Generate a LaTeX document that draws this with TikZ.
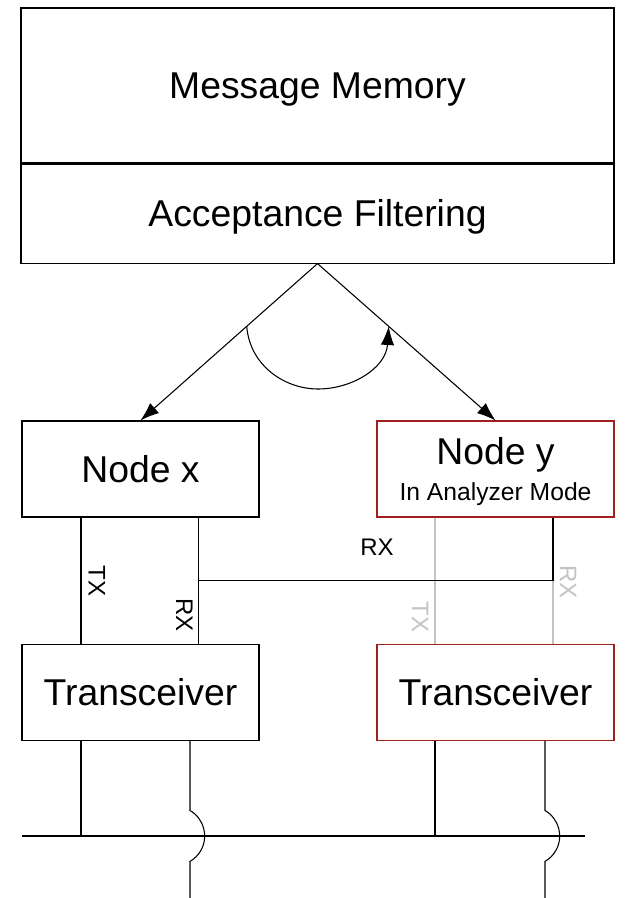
\documentclass[tikz,border=0pt]{standalone}
\usepackage{fontspec}
\setmainfont{Liberation Sans}
\usepackage{tikz}
\usetikzlibrary{arrows.meta,calc}
\definecolor{boxred}{RGB}{160,32,32}
\definecolor{offgray}{RGB}{195,195,195}

\begin{document}
\begin{tikzpicture}
 [x={(0.75pt,0)},y={(0,-0.75pt)},line width=0.8pt,
  b/.style={draw,rectangle,inner sep=0pt,minimum width=177.75pt,minimum height=72pt,
   text height=20pt,text depth=0pt,font=\fontsize{28}{32}\selectfont},
  big/.style={inner sep=0pt,font=\fontsize{28}{32}\selectfont},
  small/.style={inner sep=0pt,font=\fontsize{18}{21}\selectfont},
  tip/.style={-{Latex[length=14pt,width=10pt]}}]
 \useasboundingbox (0,0) rectangle (636,898);
 \node[b,minimum width=444.75pt,minimum height=116.25pt] (mem) at (317.5,85.5) {Message Memory};
 \node[b,minimum width=444.75pt,minimum height=74.25pt,anchor=north] (filt) at (mem.south) {Acceptance Filtering};
 \node[b] (nx) at (140.5,469) {Node x};
 \node[b,draw=boxred] (ny) at (495.5,469) {};
 \node[big,anchor=base] (nyt) at ($(ny.center)+(0,-4.5)$) {Node y};
 \node[big,anchor=base,font=\fontsize{18.5}{21}\selectfont] (nym) at ($(ny.center)+(0,31.2)$) {In Analyzer Mode};
 \node[b] (tx) at (140.5,692.5) {Transceiver};
 \node[b,draw=boxred] (ty) at (495.5,692.5) {Transceiver};
 \coordinate (lt) at (81,0);
 \coordinate (lr) at (198.5,0);
 \coordinate (lb) at (190,0);
 \coordinate (rt) at (435,0);
 \coordinate (rr) at (553,0);
 \coordinate (rb) at (545,0);
 \coordinate (rxrow) at (0,580.7);
 \coordinate (hump) at (0,810.5);
 \coordinate (busl) at (22,836);
 \coordinate (busr) at (585,836);
 \coordinate (edge) at (0,898);
 \coordinate (al) at ($(filt.south)!0.4!(nx.north)$);
 \coordinate (ar) at ($(filt.south)!0.4!(ny.north)$);
 \coordinate (ab) at (318,389);
 \draw[tip] (filt.south) -- (nx.north);
 \draw[tip] (filt.south) -- (ny.north);
 \draw[tip] (al) .. controls (250,366) and (285,389) .. (ab) .. controls (352,389) and (386,368) .. (ar);
 \draw[offgray] (rt |- ny.south) -- (rt |- ty.north);
 \draw[offgray] (rr |- rxrow) -- (rr |- ty.north);
 \draw (lt |- nx.south) -- (lt |- tx.north);
 \draw (lr |- nx.south) -- (lr |- tx.north);
 \draw (lr |- rxrow) -- (rr |- rxrow) -- (rr |- ny.south);
 \node[small] (rxa) at (377,547.7) {RX};
 \node[small,rotate=-90] (txb) at (97,580.7) {TX};
 \node[small,rotate=-90] (rxb) at (184.3,615) {RX};
 \node[small,rotate=-90,offgray] (txc) at (420,617) {TX};
 \node[small,rotate=-90,offgray] (rxc) at (568,581.7) {RX};
 \draw (lt |- tx.south) -- (lt |- busl);
 \draw (rt |- ty.south) -- (rt |- busl);
 \draw (busl) -- (busr);
 \draw (lb |- tx.south) -- (lb |- hump) arc[start angle=-60,end angle=60,radius=29.4] -- (lb |- edge);
 \draw (rb |- ty.south) -- (rb |- hump) arc[start angle=-60,end angle=60,radius=29.4] -- (rb |- edge);
\end{tikzpicture}
\end{document}
